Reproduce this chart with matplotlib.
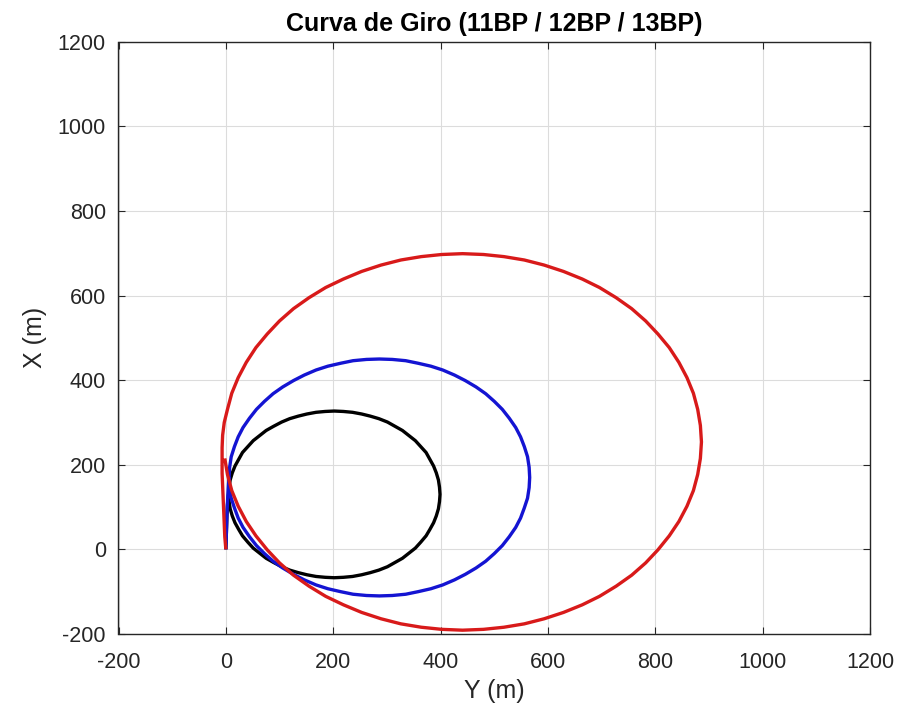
import matplotlib
matplotlib.use("Agg")
import matplotlib.pyplot as plt

plt.rcParams['font.family'] = ['Liberation Sans', 'DejaVu Sans']
plt.rcParams['axes.unicode_minus'] = False

# Track of 11BP (black): Y (m) horizontal, X (m) vertical
y_11bp = [0, 1, 2, 3, 4, 5, 6, 8, 12, 17, 24, 31, 41, 51, 63, 75, 89, 104, 119, 135, 151, 168, 185,
          202, 219, 236, 253, 269, 285, 301, 315, 329, 341, 353, 363, 373, 380, 387, 392, 396, 398,
          399, 398, 396, 392, 387, 380, 373, 363, 353, 341, 329, 315, 301, 285, 269, 253, 236, 219,
          202, 185, 168, 151, 135, 119, 104, 89, 75, 63, 51, 41, 31, 24, 17, 12, 8, 6, 5]
x_11bp = [0, 40, 80, 105, 120, 130, 147, 164, 181, 197, 213, 229, 243, 257, 269, 281, 291, 301, 309,
          315, 320, 324, 326, 327, 326, 324, 320, 315, 309, 301, 291, 281, 269, 257, 243, 229, 213,
          197, 181, 164, 147, 130, 113, 96, 79, 63, 47, 32, 17, 3, -9, -21, -31, -41, -49, -55, -60,
          -64, -66, -67, -66, -64, -60, -55, -49, -41, -31, -21, -9, 3, 17, 32, 47, 63, 79, 96, 113, 130]

# Track of 12BP (blue)
y_12bp = [0, 1, 2, 3, 4, 5, 6, 7, 10, 16, 23, 32, 44, 57, 72, 88, 106, 126, 146, 168, 190, 214, 237,
          262, 286, 310, 335, 358, 382, 404, 426, 446, 466, 484, 500, 515, 528, 540, 549, 556, 562,
          565, 566, 565, 562, 556, 549, 540, 528, 515, 500, 484, 466, 446, 426, 404, 382, 358, 335,
          310, 286, 262, 237, 214, 190, 168, 146, 126, 106, 88, 72, 57, 44, 32, 23, 16, 10, 7, 6]
x_12bp = [0, 40, 80, 110, 135, 155, 170, 194, 219, 243, 266, 288, 310, 331, 350, 368, 384, 399, 412,
          424, 433, 440, 446, 449, 450, 449, 446, 440, 433, 424, 412, 399, 384, 368, 350, 331, 310,
          288, 266, 243, 219, 194, 170, 146, 121, 98, 74, 52, 30, 9, -10, -28, -44, -59, -72, -84,
          -93, -100, -106, -109, -110, -109, -106, -100, -93, -84, -72, -59, -44, -28, -10, 9, 30,
          52, 74, 98, 121, 146, 170]

# Track of 13BP (red)
y_13bp = [0, -2, -3, -4, -5, -6, -7, -7, -7, -6, -3, 3, 11, 23, 38, 56, 77, 100, 126, 155, 186, 219,
          253, 289, 326, 364, 402, 441, 480, 518, 556, 593, 629, 664, 696, 727, 756, 782, 805, 826,
          844, 859, 871, 879, 884, 886, 884, 879, 871, 859, 844, 826, 805, 782, 756, 727, 696, 664,
          629, 593, 556, 518, 480, 441, 402, 364, 326, 289, 253, 219, 186, 155, 126, 100, 77, 56,
          38, 23, 11, 3, -2]
x_13bp = [0, 30, 60, 90, 120, 150, 180, 210, 240, 270, 300, 331, 369, 406, 442, 477, 509, 540, 569,
          595, 619, 639, 657, 672, 684, 692, 697, 699, 697, 692, 684, 672, 657, 639, 619, 595, 569,
          540, 509, 477, 442, 406, 369, 331, 293, 254, 215, 177, 139, 102, 66, 32, -1, -32, -61, -87,
          -111, -131, -149, -164, -176, -184, -189, -191, -189, -184, -176, -164, -149, -131, -111,
          -87, -61, -32, -1, 32, 66, 102, 139, 177, 215]

x_ticks = [-200, 0, 200, 400, 600, 800, 1000, 1200]
y_ticks = [-200, 0, 200, 400, 600, 800, 1000, 1200]

fig = plt.figure(figsize=(9, 7.1), dpi=100)
ax = fig.add_axes([118.5 / 900, (710 - 634) / 710, (870 - 118.5) / 900, (634 - 41.7) / 710])

ax.plot(y_11bp, x_11bp, color='black', lw=2.4, solid_joinstyle='round', solid_capstyle='butt')
ax.plot(y_12bp, x_12bp, color='#1414d2', lw=2.4, solid_joinstyle='round', solid_capstyle='butt')
ax.plot(y_13bp, x_13bp, color='#d81a1a', lw=2.4, solid_joinstyle='round', solid_capstyle='butt')

ax.set_xlim(-200, 1200)
ax.set_ylim(-200, 1200)
ax.set_xticks(x_ticks)
ax.set_yticks(y_ticks)
ax.grid(True, color='#dcdcdc', lw=0.8)
ax.set_axisbelow(True)
ax.tick_params(direction='in', length=5, width=0.8, top=True, right=True,
               labelsize=15.5, colors='#262626')
ax.tick_params(axis='x', pad=13)
ax.tick_params(axis='y', pad=9)
for s in ax.spines.values():
    s.set_color('#262626')
    s.set_linewidth(1.0)

ax.set_xlabel('Y (m)', fontsize=18, color='#262626', labelpad=4)
ax.set_ylabel('X (m)', fontsize=18, color='#262626', labelpad=8)
ax.set_title('Curva de Giro (11BP / 12BP / 13BP)', fontsize=18, fontweight='bold', pad=8)

fig.savefig('out.png', dpi=100)
